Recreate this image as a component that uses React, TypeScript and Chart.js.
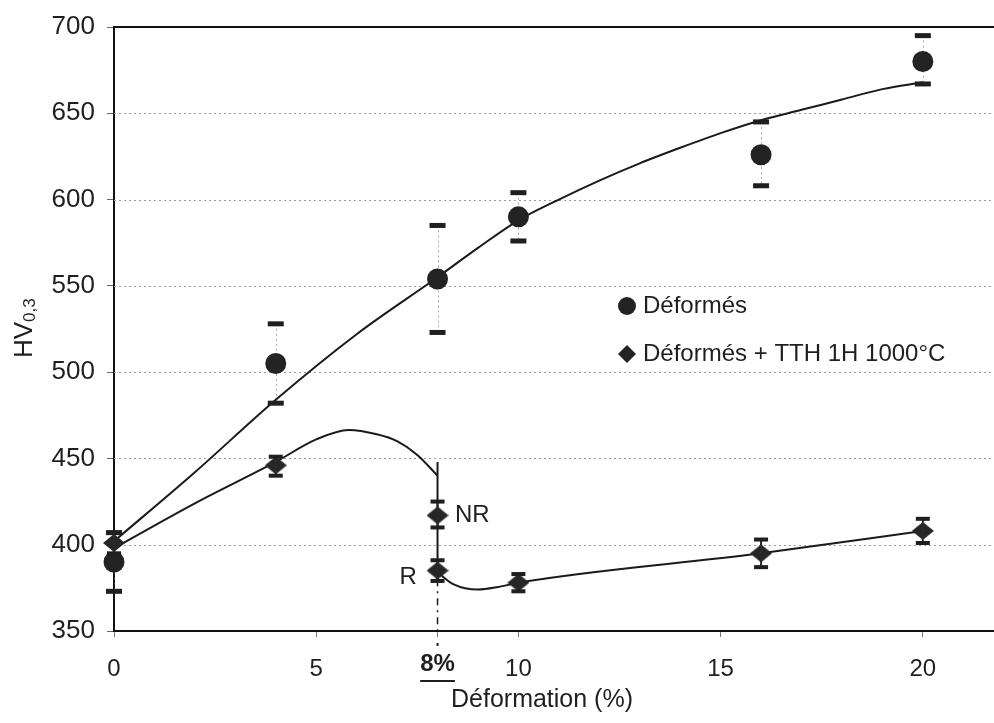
import React, { useEffect, useRef } from 'react';
import { Chart, registerables } from 'chart.js';

Chart.register(...registerables);

// ---- axis ticks ----
const xTicks = [0, 5, 8, 10, 15, 20];
const yTicks = [350, 400, 450, 500, 550, 600, 650, 700];

// ---- "Déformés" measurements ----
const deformX = [0, 4, 8, 10, 16, 20];
const deformHV = [390, 505, 554, 590, 626, 680];
const deformLow = [373, 482, 523, 576, 608, 667];
const deformHigh = [407, 528, 585, 604, 645, 695];

// ---- "Déformés + TTH 1H 1000°C" measurements (two points at 8%: NR and R) ----
const tthX = [0, 4, 8, 8, 10, 16, 20];
const tthHV = [401, 446, 417, 385, 378, 395, 408];
const tthLow = [395, 440, 410, 379, 373, 387, 401];
const tthHigh = [407, 451, 425, 391, 383, 403, 415];

// ---- hand-drawn trend curves ----
const fitDeformX = [0, 2, 4, 6, 8, 9, 10, 11, 12, 13, 14, 15, 16, 17, 18, 19, 20];
const fitDeformHV = [402, 442, 484, 522, 555, 572, 588, 600, 611, 621, 630, 638.5, 646, 652, 658, 664, 668];

const fitTthAX = [0, 2, 4, 5, 5.8, 6.5, 7, 7.5, 8];
const fitTthAHV = [398, 424, 448, 461, 466.5, 464, 460, 452, 440];

const fitTthBX = [8, 8.4, 9, 9.5, 10, 16, 20];
const fitTthBHV = [384, 377, 374, 375.5, 378, 395, 408];

// ---- vertical marker at 8 % ----
const vertX = [8, 8];
const vertSolidHV = [448, 380];
const vertDashHV = [380, 350];

const FONT = "'Liberation Sans', Arial, Helvetica, sans-serif";
const INK = '#1f1f1f';
const LINE = '#1a1a1a';

const pts = (xs: number[], ys: number[]) => xs.map((x, i) => ({ x, y: ys[i] }));

function makeDiamond(): HTMLCanvasElement {
  const c = document.createElement('canvas');
  const w = 22;
  const h = 18;
  c.width = w;
  c.height = h;
  const g = c.getContext('2d')!;
  g.fillStyle = '#262626';
  g.beginPath();
  g.moveTo(w / 2, 0);
  g.lineTo(w, h / 2);
  g.lineTo(w / 2, h);
  g.lineTo(0, h / 2);
  g.closePath();
  g.fill();
  return c;
}

const decorPlugin = {
  id: 'decor',
  beforeDatasetsDraw(chart: any) {
    const { ctx, chartArea, scales } = chart;
    const x = scales.x;
    const y = scales.y;
    ctx.save();
    // dotted grid lines
    ctx.strokeStyle = '#9a9a9a';
    ctx.lineWidth = 1;
    ctx.setLineDash([2, 3]);
    yTicks.forEach((v) => {
      if (v === 350 || v === 700) return;
      const py = Math.round(y.getPixelForValue(v)) + 0.5;
      ctx.beginPath();
      ctx.moveTo(chartArea.left, py);
      ctx.lineTo(chartArea.right, py);
      ctx.stroke();
    });
    // faint dotted verticals of the circle error bars
    ctx.strokeStyle = 'rgba(110,110,110,0.6)';
    deformX.forEach((xv, i) => {
      const px = Math.round(x.getPixelForValue(xv)) + 0.5;
      ctx.beginPath();
      ctx.moveTo(px, y.getPixelForValue(deformHigh[i]));
      ctx.lineTo(px, y.getPixelForValue(deformLow[i]));
      ctx.stroke();
    });
    ctx.setLineDash([]);
    // solid top frame line
    const top = y.getPixelForValue(700);
    ctx.strokeStyle = '#111';
    ctx.lineWidth = 2;
    ctx.beginPath();
    ctx.moveTo(chartArea.left, top);
    ctx.lineTo(chartArea.right, top);
    ctx.stroke();
    ctx.restore();
  },
  afterDatasetsDraw(chart: any) {
    const { ctx, scales } = chart;
    const x = scales.x;
    const y = scales.y;
    ctx.save();
    ctx.fillStyle = INK;
    // caps for circles
    deformX.forEach((xv, i) => {
      const px = x.getPixelForValue(xv);
      const ph = y.getPixelForValue(deformHigh[i]);
      const pl = y.getPixelForValue(deformLow[i]);
      ctx.fillRect(px - 8, ph - 2.5, 16, 5);
      ctx.fillRect(px - 8, pl - 2.5, 16, 5);
    });
    // I-beams for diamonds
    ctx.strokeStyle = '#2a2a2a';
    ctx.lineWidth = 2;
    tthX.forEach((xv, i) => {
      const px = x.getPixelForValue(xv);
      const ph = y.getPixelForValue(tthHigh[i]);
      const pl = y.getPixelForValue(tthLow[i]);
      ctx.beginPath();
      ctx.moveTo(px, ph);
      ctx.lineTo(px, pl);
      ctx.stroke();
      ctx.fillRect(px - 7, ph - 2, 14, 4);
      ctx.fillRect(px - 7, pl - 2, 14, 4);
    });
    // dot of the dash-dot marker just below the axis
    const p8 = x.getPixelForValue(8);
    ctx.fillRect(p8 - 1, y.getPixelForValue(350) + 12, 2, 3);
    ctx.restore();
  },
  afterDraw(chart: any) {
    const { ctx, scales } = chart;
    const x = scales.x;
    const y = scales.y;
    ctx.save();
    ctx.fillStyle = INK;
    ctx.textBaseline = 'middle';

    // NR / R labels
    ctx.font = `24px ${FONT}`;
    ctx.textAlign = 'left';
    ctx.fillText('NR', x.getPixelForValue(8.43), y.getPixelForValue(417));
    ctx.textAlign = 'right';
    ctx.fillText('R', x.getPixelForValue(7.49), y.getPixelForValue(381));

    // bold underlined 8% tick label
    const p8 = x.getPixelForValue(8);
    ctx.font = `bold 24px ${FONT}`;
    ctx.textAlign = 'center';
    ctx.fillText('8%', p8, 664);
    const w8 = ctx.measureText('8%').width;
    ctx.fillRect(p8 - w8 / 2, 680, w8, 2);

    // x-axis title
    ctx.font = `25px ${FONT}`;
    ctx.fillText('Déformation (%)', 542, 700);

    // y-axis title HV0,3
    ctx.save();
    ctx.translate(32, 358);
    ctx.rotate(-Math.PI / 2);
    ctx.textAlign = 'left';
    ctx.textBaseline = 'alphabetic';
    ctx.font = `26px ${FONT}`;
    ctx.fillText('HV', 0, 0);
    const wHV = ctx.measureText('HV').width;
    ctx.font = `17px ${FONT}`;
    ctx.fillText('0,3', wHV, 3);
    ctx.restore();

    // legend
    ctx.font = `24px ${FONT}`;
    ctx.textAlign = 'left';
    ctx.textBaseline = 'alphabetic';
    ctx.fillStyle = '#232323';
    ctx.beginPath();
    ctx.arc(627, 306, 9, 0, Math.PI * 2);
    ctx.fill();
    ctx.fillStyle = INK;
    ctx.fillText('Déformés', 643, 313);
    ctx.fillStyle = '#232323';
    ctx.beginPath();
    ctx.moveTo(627, 345);
    ctx.lineTo(636, 354);
    ctx.lineTo(627, 363);
    ctx.lineTo(618, 354);
    ctx.closePath();
    ctx.fill();
    ctx.fillStyle = INK;
    ctx.fillText('Déformés + TTH 1H 1000°C', 643, 361);
    ctx.restore();
  },
};

export default function App() {
  const ref = useRef<HTMLCanvasElement | null>(null);

  useEffect(() => {
    if (!ref.current) return;
    const diamond = makeDiamond();
    const lineDs = (data: any[], extra: any = {}) => ({
      type: 'scatter',
      data,
      showLine: true,
      pointRadius: 0,
      borderColor: LINE,
      borderWidth: 2,
      cubicInterpolationMode: 'monotone',
      fill: false,
      ...extra,
    });
    const chart = new Chart(ref.current, {
      type: 'scatter',
      data: {
        datasets: [
          {
            label: 'Déformés',
            data: pts(deformX, deformHV),
            showLine: false,
            pointStyle: 'circle',
            pointRadius: 10.5,
            backgroundColor: '#232323',
            borderColor: '#232323',
            borderWidth: 0,
            clip: false,
          },
          {
            label: 'Déformés + TTH 1H 1000°C',
            data: pts(tthX, tthHV),
            showLine: false,
            pointStyle: diamond,
            pointRadius: 10,
            backgroundColor: '#262626',
            borderColor: '#262626',
            clip: false,
          },
          lineDs(pts(fitDeformX, fitDeformHV)),
          lineDs(pts(fitTthAX, fitTthAHV)),
          lineDs(pts(fitTthBX, fitTthBHV)),
          lineDs(pts(vertX, vertSolidHV), { cubicInterpolationMode: 'default', tension: 0 }),
          lineDs(pts(vertX, vertDashHV), { cubicInterpolationMode: 'default', tension: 0, borderDash: [7, 5, 2, 5], borderWidth: 1.5 }),
        ] as any,
      },
      options: {
        responsive: false,
        maintainAspectRatio: false,
        animation: false,
        layout: { autoPadding: false, padding: { top: 27, left: 0, right: 0, bottom: 0 } },
        plugins: {
          legend: { display: false },
          tooltip: { enabled: false },
        },
        scales: {
          x: {
            type: 'linear',
            min: 0,
            max: 21.76,
            afterBuildTicks: (s: any) => {
              s.ticks = xTicks.map((v) => ({ value: v }));
            },
            afterFit: (s: any) => {
              s.height = 92;
              s.paddingLeft = 0;
              s.paddingRight = 0;
            },
            grid: { drawOnChartArea: false, drawTicks: true, tickLength: 6, tickColor: '#777' },
            border: { color: '#111', width: 2 },
            ticks: {
              callback: (v: any) => (v === 8 ? '' : String(v)),
              font: { family: FONT, size: 24 },
              color: INK,
              padding: 18,
              maxRotation: 0,
              autoSkip: false,
            },
          },
          y: {
            type: 'linear',
            min: 350,
            max: 700,
            afterBuildTicks: (s: any) => {
              s.ticks = yTicks.map((v) => ({ value: v }));
            },
            afterFit: (s: any) => {
              s.width = 114;
              s.paddingTop = 0;
              s.paddingBottom = 0;
            },
            grid: { drawOnChartArea: false, drawTicks: true, tickLength: 7, tickColor: '#666' },
            border: { color: '#111', width: 2 },
            ticks: {
              font: { family: FONT, size: 26 },
              color: INK,
              padding: 12,
            },
          },
        },
      } as any,
      plugins: [decorPlugin],
    });
    return () => chart.destroy();
  }, []);

  return (
    <div style={{ position: 'absolute', left: 0, top: 0, width: 994, height: 723, background: '#fff' }}>
      <canvas ref={ref} width={994} height={723} style={{ display: 'block' }} />
    </div>
  );
}
